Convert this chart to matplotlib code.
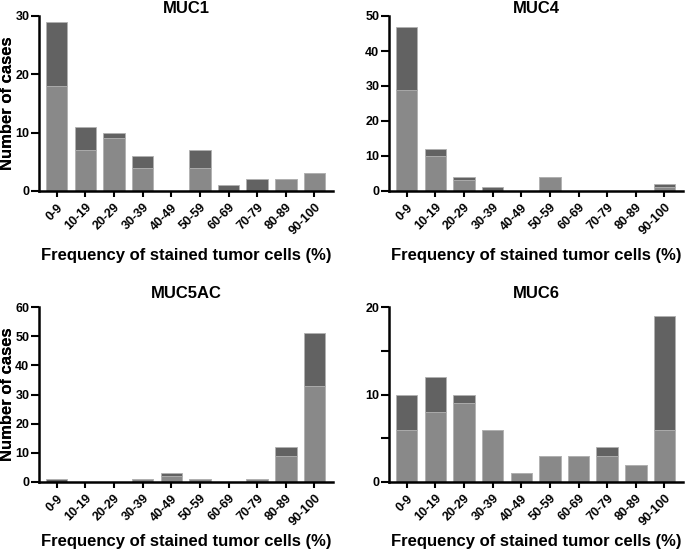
import matplotlib
matplotlib.use('Agg')
import matplotlib.pyplot as plt

####################################
# Data
####################################

bins = ['0-9', '10-19', '20-29', '30-39', '40-49', '50-59', '60-69', '70-79', '80-89', '90-100']

# light = lower segment, dark = upper segment
muc1_light = [18, 7, 9, 4, 0, 4, 0, 0, 2, 3]
muc1_dark = [11, 4, 1, 2, 0, 3, 1, 2, 0, 0]

muc4_light = [29, 10, 3, 0, 0, 4, 0, 0, 0, 1]
muc4_dark = [18, 2, 1, 1, 0, 0, 0, 0, 0, 1]

muc5ac_light = [0, 0, 0, 1, 2, 1, 0, 1, 9, 33]
muc5ac_dark = [1, 0, 0, 0, 1, 0, 0, 0, 3, 18]

muc6_light = [6, 8, 9, 6, 1, 3, 3, 3, 2, 6]
muc6_dark = [4, 4, 1, 0, 0, 0, 0, 1, 0, 13]

titles = ['MUC1', 'MUC4', 'MUC5AC', 'MUC6']
ylims = [30, 50, 60, 20]
yticks = [[0, 10, 20, 30], [0, 10, 20, 30, 40, 50], [0, 10, 20, 30, 40, 50, 60], [0, 10, 20]]

####################################
# Style
####################################

LIGHT = '#898989'
DARK = '#626262'
EDGE = '#b0b0b0'

plt.rcParams['font.family'] = ['Liberation Sans', 'DejaVu Sans']
plt.rcParams['font.weight'] = 'bold'

W, H = 685, 551
fig = plt.figure(figsize=(W / 100, H / 100), dpi=100)

# axes boxes in pixels: left, right, top, bottom
boxes = [(39, 333, 16, 191), (389, 683, 16, 191), (39, 333, 307, 482), (389, 683, 307, 482)]
title_pads = [2, 2, 6.5, 6.5]
xlab_gap = [57, 57, 52, 52]
data = [(muc1_light, muc1_dark), (muc4_light, muc4_dark),
        (muc5ac_light, muc5ac_dark), (muc6_light, muc6_dark)]

for i, (l, r, t, b) in enumerate(boxes):
    w, h = r - l, b - t
    ax = fig.add_axes([l / W, 1 - b / H, w / W, h / H])
    light, dark = data[i]
    x = range(len(bins))
    ax.bar(x, light, width=0.75, color=LIGHT, edgecolor=EDGE, lw=0.6)
    ax.bar(x, dark, bottom=light, width=0.75, color=DARK, edgecolor=EDGE, lw=0.6)

    ax.set_xlim(-0.62, 9.65)
    ax.set_ylim(0, ylims[i])
    ax.set_yticks(yticks[i])
    if titles[i] == 'MUC6':
        ax.set_yticks([5, 15], minor=True)
        ax.tick_params(axis='y', which='minor', length=6, width=1.5)
    ax.set_xticks(list(x))
    ax.set_xticklabels(bins, fontsize=9)
    ax.tick_params(axis='y', which='major', length=6, width=1.5, pad=1, labelsize=9)
    ax.tick_params(axis='x', length=4.5, width=1.5, pad=3, labelrotation=45)
    for lab in ax.get_xticklabels():
        lab.set_ha('right')
        lab.set_rotation_mode('anchor')

    for s in ['top', 'right']:
        ax.spines[s].set_visible(False)
    for s in ['left', 'bottom']:
        ax.spines[s].set_linewidth(1.8)

    ax.set_title(titles[i], fontsize=12, fontweight='bold', pad=title_pads[i])
    ax.set_ylabel('Number of cases', fontsize=12, fontweight='bold')
    ax.yaxis.set_label_coords((15 - l) / w, 0.5)
    ax.set_xlabel('Frequency of stained tumor cells (%)', fontsize=12, fontweight='bold')
    ax.xaxis.set_label_coords(0.5, -xlab_gap[i] / h)

plt.savefig('out.png', dpi=100)
